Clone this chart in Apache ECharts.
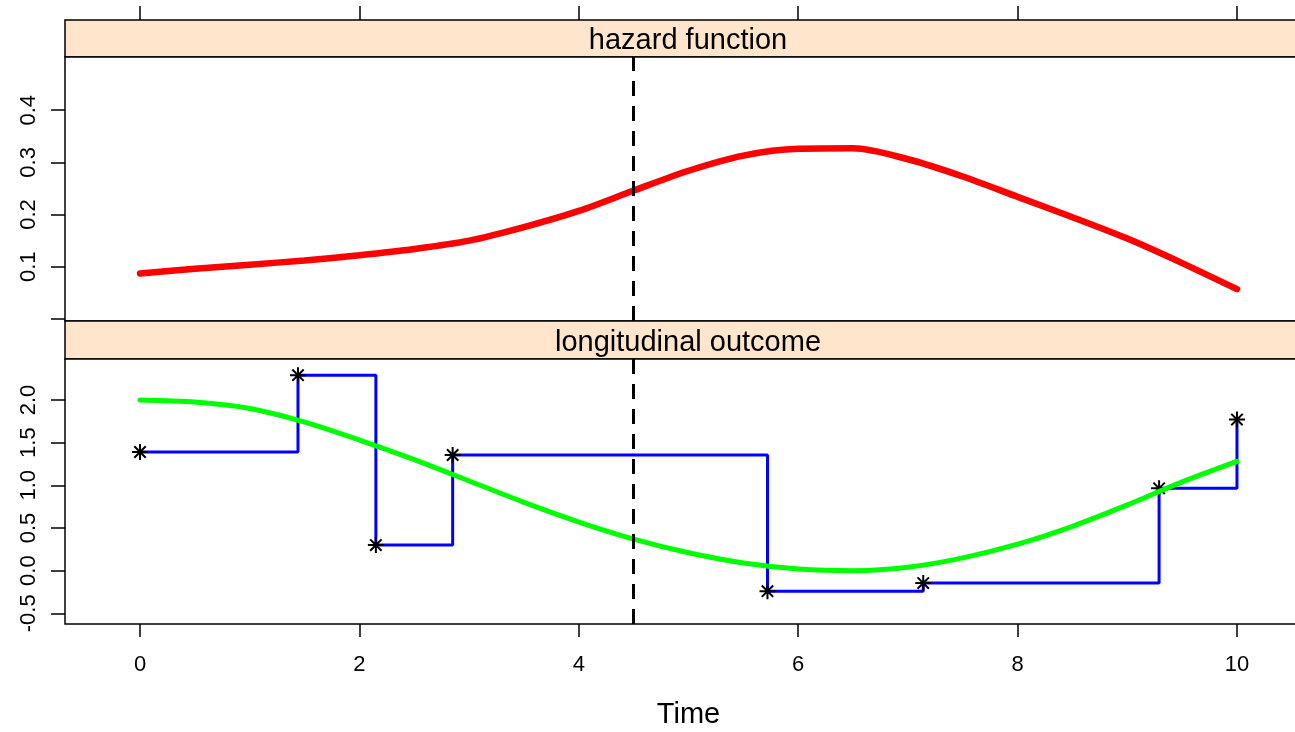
<!DOCTYPE html>
<html>
<head>
<meta charset="utf-8">
<script src="https://cdn.jsdelivr.net/npm/echarts@6/dist/echarts.min.js"></script>
<style>
  html, body { margin: 0; padding: 0; background: #fff; }
  #main { width: 1295px; height: 732px; }
</style>
</head>
<body>
<div id="main"></div>
<script>
// hazard function (top panel)
var hazTime = [0, 0.5, 1, 1.5, 2, 2.5, 3, 3.5, 4, 4.5, 5, 5.5, 6, 6.5, 7, 7.5, 8, 8.5, 9, 9.5, 10];
var hazVal = [0.087, 0.096, 0.104, 0.112, 0.122, 0.134, 0.150, 0.176, 0.207, 0.246, 0.284, 0.313, 0.326, 0.327, 0.306, 0.273, 0.234, 0.195, 0.154, 0.107, 0.057];
// longitudinal outcome: fitted curve (green)
var fitTime = [0, 0.5, 1, 1.5, 2, 2.5, 3, 3.5, 4, 4.5, 5, 5.5, 6, 6.5, 7, 7.5, 8, 8.5, 9, 9.5, 10];
var fitVal = [2.0, 1.975, 1.90, 1.74, 1.53, 1.30, 1.05, 0.80, 0.57, 0.37, 0.21, 0.09, 0.02, 0.0, 0.04, 0.15, 0.31, 0.52, 0.77, 1.04, 1.28];
// observed values (blue steps + stars)
var obsTime = [0, 1.44, 2.15, 2.85, 5.72, 7.14, 9.29, 10];
var obsVal = [1.39, 2.29, 0.30, 1.355, -0.24, -0.145, 0.965, 1.77];
var cutTime = 4.5;
var xTicks = [0, 2, 4, 6, 8, 10];
var hazTicks = [0, 0.1, 0.2, 0.3, 0.4];
var hazLabels = [0.1, 0.2, 0.3, 0.4];
var longTicks = [-0.5, 0, 0.5, 1, 1.5, 2];

function pairs(xs, ys) {
  var out = [];
  for (var i = 0; i < xs.length; i++) out.push([xs[i], ys[i]]);
  return out;
}

var font = 'Liberation Sans, Arial, sans-serif';
var xMin = -0.684, xMax = 10.684;
// plot box runs past the right edge of the window, like the original
var strip = { left: 65, width: 1247, outerBoundsMode: 'none', containLabel: false, show: true,
  backgroundColor: '#ffe5cc', borderColor: '#000', borderWidth: 1.5 };
var panel = { left: 65, width: 1247, outerBoundsMode: 'none', containLabel: false, show: true,
  backgroundColor: '#fff', borderColor: '#000', borderWidth: 1.5 };
var cutLine = {
  silent: true, symbol: 'none', label: { show: false },
  lineStyle: { color: '#000', type: [15, 10], width: 3 },
  data: [{ xAxis: cutTime }]
};
var star = 'path://M8,0L8,16M0,8L16,8M2.3,2.3L13.7,13.7M2.3,13.7L13.7,2.3';
var tickStyle = { color: '#000', width: 1.5 };

var chart = echarts.init(document.getElementById('main'));
chart.setOption({
  animation: false,
  title: [
    { text: 'hazard function', left: 688, top: 26, textAlign: 'center', padding: 0,
      textStyle: { fontFamily: font, fontSize: 29, fontWeight: 'normal', color: '#000' } },
    { text: 'longitudinal outcome', left: 688, top: 328, textAlign: 'center', padding: 0,
      textStyle: { fontFamily: font, fontSize: 29, fontWeight: 'normal', color: '#000' } }
  ],
  grid: [
    Object.assign({ top: 20, height: 37 }, strip),
    Object.assign({ top: 57, height: 264 }, panel),
    Object.assign({ top: 321, height: 38 }, strip),
    Object.assign({ top: 359, height: 265 }, panel)
  ],
  xAxis: [
    { gridIndex: 0, type: 'value', position: 'top', min: xMin, max: xMax,
      axisLine: { show: false, onZero: false }, splitLine: { show: false }, axisLabel: { show: false },
      axisTick: { show: true, inside: false, length: 14, customValues: xTicks, lineStyle: tickStyle } },
    { gridIndex: 1, type: 'value', min: xMin, max: xMax, show: false },
    { gridIndex: 2, type: 'value', min: xMin, max: xMax, show: false },
    { gridIndex: 3, type: 'value', position: 'bottom', min: xMin, max: xMax,
      name: 'Time', nameLocation: 'middle', nameGap: 76,
      nameTextStyle: { fontFamily: font, fontSize: 29, color: '#000' },
      axisLine: { show: false, onZero: false }, splitLine: { show: false },
      axisTick: { show: true, length: 13, customValues: xTicks, lineStyle: tickStyle },
      axisLabel: { margin: 30, customValues: xTicks, fontFamily: font, fontSize: 22, color: '#000' } }
  ],
  yAxis: [
    { gridIndex: 0, type: 'value', min: 0, max: 1, show: false },
    { gridIndex: 1, type: 'value', min: -0.004, max: 0.502,
      axisLine: { show: false, onZero: false }, splitLine: { show: false },
      axisTick: { show: true, length: 14, customValues: hazTicks, lineStyle: tickStyle },
      axisLabel: { rotate: 90, margin: 25, customValues: hazLabels, fontFamily: font, fontSize: 22, color: '#000',
        formatter: function (v) { return v.toFixed(1); } } },
    { gridIndex: 2, type: 'value', min: 0, max: 1, show: false },
    { gridIndex: 3, type: 'value', min: -0.625, max: 2.48,
      axisLine: { show: false, onZero: false }, splitLine: { show: false },
      axisTick: { show: true, length: 14, customValues: longTicks, lineStyle: tickStyle },
      axisLabel: { rotate: 90, margin: 25, customValues: longTicks, fontFamily: font, fontSize: 22, color: '#000',
        formatter: function (v) { return v.toFixed(1); } } }
  ],
  series: [
    { name: 'hazard', type: 'line', xAxisIndex: 1, yAxisIndex: 1, data: pairs(hazTime, hazVal),
      smooth: 0.3, showSymbol: false, lineStyle: { color: '#ff0000', width: 6.5, cap: 'round' },
      markLine: cutLine, z: 2 },
    { name: 'observed', type: 'line', xAxisIndex: 3, yAxisIndex: 3, data: pairs(obsTime, obsVal),
      step: 'end', showSymbol: false, lineStyle: { color: '#0000ff', width: 3 },
      markLine: cutLine, z: 2 },
    { name: 'points', type: 'scatter', xAxisIndex: 3, yAxisIndex: 3, data: pairs(obsTime, obsVal),
      symbol: star, symbolSize: 16, symbolKeepAspect: true,
      itemStyle: { color: '#000', borderColor: '#000', borderWidth: 2, opacity: 1 }, z: 3 },
    { name: 'fitted', type: 'line', xAxisIndex: 3, yAxisIndex: 3, data: pairs(fitTime, fitVal),
      smooth: 0.3, showSymbol: false, lineStyle: { color: '#00ff00', width: 5, cap: 'round' }, z: 4 }
  ]
});
</script>
</body>
</html>
